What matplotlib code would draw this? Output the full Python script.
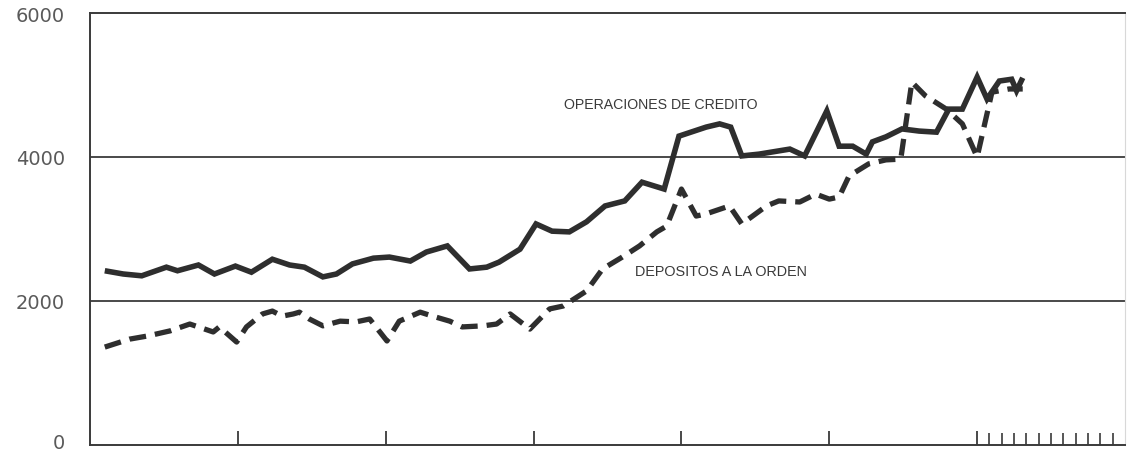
import matplotlib
matplotlib.use("Agg")
import matplotlib.pyplot as plt
from matplotlib.ticker import FixedLocator
from matplotlib.transforms import ScaledTranslation

# time axis in months from start of first year (7 years shown)
cred_months = [1.2, 2.7, 4.2, 6.2, 7.1, 8.8, 10.1, 11.8, 13.1, 14.8, 16.2, 17.4, 18.9, 20.0,
               21.3, 23.0, 24.3, 26.0, 27.3, 29.0, 30.8, 32.2, 33.2, 34.9, 36.2, 37.5, 38.9,
               40.3, 41.8, 43.4, 44.8, 46.6, 47.8, 50.0, 51.1, 52.0, 52.9, 54.3, 56.8, 58.0,
               59.8, 60.8, 61.9, 63.0, 63.5, 64.6, 65.9, 67.3, 68.7, 69.7, 70.8, 72.0, 72.8,
               73.8, 74.8, 75.2, 75.7]
cred_values = [2420, 2375, 2350, 2470, 2420, 2500, 2375, 2485, 2400, 2580, 2500, 2470, 2335, 2375,
               2515, 2595, 2610, 2555, 2680, 2765, 2445, 2470, 2540, 2720, 3070, 2970, 2960,
               3100, 3320, 3390, 3650, 3555, 4290, 4415, 4460, 4415, 4015, 4040, 4110, 4015,
               4640, 4150, 4150, 4040, 4210, 4280, 4390, 4360, 4345, 4665, 4665, 5110, 4805,
               5055, 5080, 4920, 5100]

dep_months = [1.2, 3.2, 4.7, 6.5, 8.1, 10.0, 10.5, 11.9, 12.7, 14.0, 14.8, 15.6, 16.5, 17.0,
              17.8, 18.9, 20.3, 21.6, 22.7, 24.1, 25.1, 26.8, 27.8, 29.2, 30.2, 31.9, 33.0,
              34.1, 35.7, 37.3, 38.4, 40.3, 41.6, 43.2, 44.6, 46.0, 46.8, 48.0, 49.2, 50.0,
              51.9, 52.9, 54.9, 55.9, 57.6, 58.9, 60.0, 60.8, 61.6, 63.2, 64.6, 65.8, 66.7,
              67.8, 69.5, 70.8, 72.0, 73.2, 74.6, 75.7]
dep_values = [1360, 1470, 1515, 1585, 1680, 1570, 1640, 1430, 1640, 1820, 1860, 1790, 1820, 1845,
              1750, 1655, 1720, 1710, 1750, 1445, 1720, 1845, 1790, 1720, 1640, 1655, 1680,
              1820, 1610, 1890, 1930, 2140, 2445, 2610, 2765, 2960, 3040, 3555, 3180, 3210,
              3320, 3070, 3320, 3390, 3375, 3485, 3415, 3445, 3735, 3905, 3960, 3970, 5040,
              4850, 4665, 4460, 4000, 4900, 4945, 4945]

y_ticks = [0, 2000, 4000, 6000]
y_labels = ["0", "2000", "4000", "6000"]
year_ticks = [12, 24, 36, 48, 60, 72]
month_ticks = [73, 74, 75, 76, 77, 78, 79, 80, 81, 82, 83]

label_cred = "OPERACIONES DE CREDITO"
label_dep = "DEPOSITOS A LA ORDEN"

fig = plt.figure(figsize=(11.27, 4.52), dpi=100)
ax = fig.add_axes([90 / 1127, 6 / 452, 1035 / 1127, 432 / 452])

line_col = "#2e2e2e"
ax.plot(cred_months, cred_values, color=line_col, lw=4.0, solid_joinstyle="miter",
        solid_capstyle="butt", zorder=3)
ax.plot(dep_months, dep_values, color=line_col, lw=3.8, linestyle=(0, (3.2, 1.7)),
        dash_capstyle="butt", zorder=3)

ax.set_xlim(0, 84)
ax.set_ylim(0, 6000)

for yv in [2000, 4000]:
    ax.axhline(yv, color="#3a3a3a", lw=1.3, zorder=1)

for side in ["left", "bottom", "top"]:
    ax.spines[side].set_color("#3a3a3a")
    ax.spines[side].set_linewidth(1.4)
ax.spines["right"].set_color("#d8d8d8")
ax.spines["right"].set_linewidth(0.8)

ax.set_yticks(y_ticks)
ax.set_yticklabels(y_labels, fontsize=14, color="#5a5a5a")
ax.tick_params(axis="y", length=0, pad=18)
# nudge the "0" label up so it stays inside the figure
zero_lab = ax.get_yticklabels()[0]
zero_lab.set_transform(zero_lab.get_transform() + ScaledTranslation(0, 3 / 72, fig.dpi_scale_trans))

ax.set_xticks(year_ticks)
ax.set_xticklabels([])
ax.tick_params(axis="x", which="major", direction="in", length=10, width=1.3, color="#3a3a3a")
ax.xaxis.set_minor_locator(FixedLocator(month_ticks))
ax.tick_params(axis="x", which="minor", direction="in", length=9, width=1.2, color="#3a3a3a")

lab_font = ["Liberation Sans", "DejaVu Sans"]
ax.text(38.5, 4736, label_cred, fontsize=10.2, color="#3a3a3a", family=lab_font,
        ha="left", va="center")
ax.text(44.2, 2417, label_dep, fontsize=10.4, color="#3a3a3a", family=lab_font,
        ha="left", va="center")

fig.savefig("out.png", dpi=100, facecolor="white")
